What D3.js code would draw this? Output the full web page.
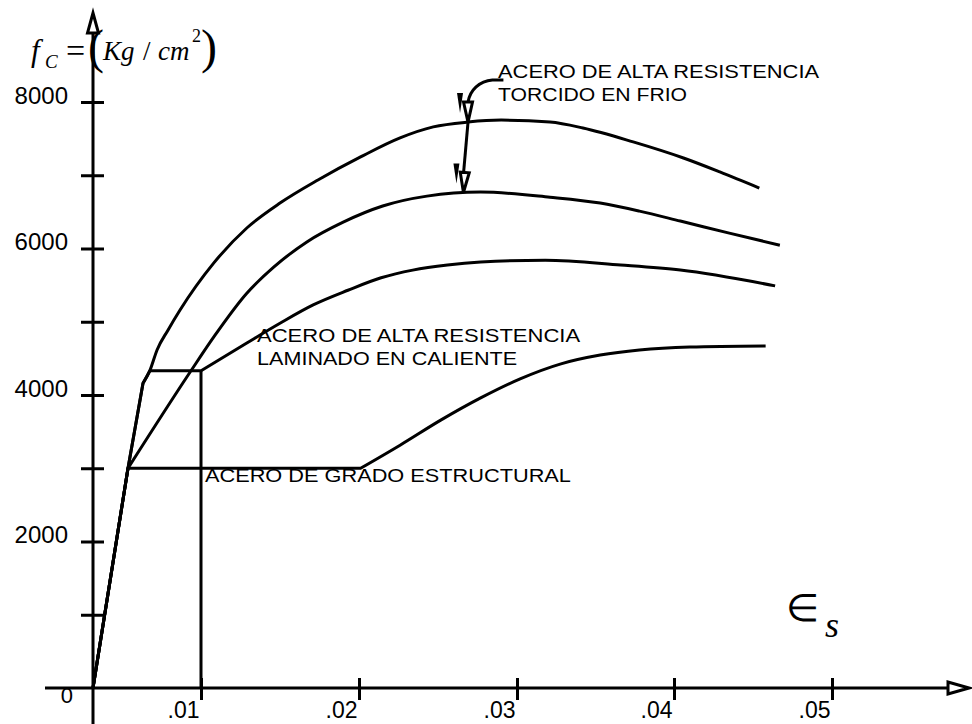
<!DOCTYPE html>
<html>
<head>
<meta charset="utf-8">
<script src="https://cdn.jsdelivr.net/npm/d3@7"></script>
<style>
  html, body { margin: 0; padding: 0; background: #fff; }
  svg { display: block; }
  .sans { font-family: "Liberation Sans", Arial, sans-serif; }
  .serif { font-family: "Liberation Serif", "Times New Roman", serif; }
</style>
</head>
<body>
<svg id="chart" width="972" height="724"></svg>
<script>
// Stress–strain curves for reinforcing steels: strain (ε_s) vs stress f_c (kg/cm²)

// Axis ticks
const strainTicks = [0.01, 0.02, 0.03, 0.04, 0.05];
const stressTicks = [1000, 2000, 3000, 4000, 5000, 6000, 7000, 8000];
const stressLabels = [2000, 4000, 6000, 8000];

// Curves as [strain, stress] pairs; the first `sharp` points are joined by
// straight segments (elastic branch, yield plateau), the rest by a smooth curve
const structuralGrade = [
  [0, 0], [0.00324, 3000], [0.0201, 3000], [0.0226, 3315], [0.0252, 3660],
  [0.0277, 3960], [0.0302, 4220], [0.0328, 4425], [0.0353, 4545],
  [0.0378, 4615], [0.0410, 4655], [0.0458, 4670]
];
const structuralGradeSharp = 3;
const hotRolled = [
  [0, 0], [0.00324, 3000], [0.00463, 4160], [0.00528, 4330], [0.0100, 4330],
  [0.0129, 4710], [0.0150, 4980], [0.0171, 5230],
  [0.0193, 5430], [0.0214, 5600], [0.0234, 5705], [0.0256, 5775],
  [0.0277, 5815], [0.0318, 5840], [0.0366, 5775], [0.0404, 5705], [0.0464, 5490]
];
const hotRolledSharp = 5;
const coldTwistedLow = [
  [0, 0], [0.00324, 3000], [0.00898, 4310], [0.0108, 4790], [0.0129, 5390],
  [0.0146, 5745], [0.0167, 6090], [0.0190, 6360], [0.0215, 6580],
  [0.0243, 6715], [0.0277, 6770], [0.0321, 6700], [0.0353, 6620],
  [0.0378, 6510], [0.0404, 6375], [0.0435, 6210], [0.0467, 6045]
];
const coldTwistedLowSharp = 2;
const coldTwistedHigh = [
  [0, 0], [0.00324, 3000], [0.00463, 4160], [0.00528, 4340], [0.00593, 4615],
  [0.00694, 4885], [0.00806, 5160], [0.0108, 5800], [0.0129, 6280],
  [0.0150, 6620], [0.0174, 6935], [0.0201, 7250], [0.0226, 7510],
  [0.0247, 7660], [0.0269, 7726], [0.0290, 7753], [0.0321, 7726],
  [0.0342, 7645], [0.0374, 7455], [0.0406, 7235], [0.0429, 7045], [0.0454, 6825]
];
const coldTwistedHighSharp = 3;

// Yield-plateau drop line of the hot-rolled steel at ε = .01
const dropLine = [[0.01, 4330], [0.01, 0]];

// Curve labels: [strain, stress] of the first baseline, text lines, widths
const labelHotRolled = [0.01355, 4720];
const labelHotRolledText = ["ACERO DE ALTA RESISTENCIA", "LAMINADO EN CALIENTE"];
const labelHotRolledWidth = [323, 260];
const labelStructural = [0.01025, 2815];
const labelStructuralText = ["ACERO DE GRADO ESTRUCTURAL"];
const labelStructuralWidth = [366];
const labelCold = [0.0288, 8330];
const labelColdText = ["ACERO DE ALTA RESISTENCIA", "TORCIDO EN FRIO"];
const labelColdWidth = [321, 189];

// Double arrow pointing at both cold-twisted curves
const leaderStart = [0.02914, 8300];
const arrowTopTip = [0.0269, 7726];
const arrowBottomTip = [0.02661, 6765];

const svg = d3.select("#chart");

// The first division (0 – .01) is drawn shorter than the rest
const x = d3.scaleLinear()
  .domain([0, 0.01, 0.02, 0.03, 0.04, 0.05])
  .range([93, 201, 359, 517, 674, 832]);
const y = d3.scaleLinear().domain([0, 8000]).range([688, 102]);

const x0 = x(0), y0 = y(0);
const ink = "#000";

// Axis lines with open arrowheads
svg.append("line").attr("x1", x0).attr("x2", x0).attr("y1", 724).attr("y2", 30)
  .attr("stroke", ink).attr("stroke-width", 3);
svg.append("line").attr("x1", 45).attr("x2", 950).attr("y1", y0).attr("y2", y0)
  .attr("stroke", ink).attr("stroke-width", 3);

function openHead(tip, dir, len, half) {
  // dir: unit vector pointing toward the tip
  const [tx, ty] = tip, [dx, dy] = dir;
  const bx = tx - dx * len, by = ty - dy * len;
  const px = -dy * half, py = dx * half;
  return [[tx, ty], [bx + px, by + py], [bx - px, by - py]];
}
const polyLine = d3.line();
function drawHead(pts) {
  svg.append("path").attr("d", polyLine(pts) + "Z")
    .attr("fill", "#fff").attr("stroke", ink).attr("stroke-width", 3)
    .attr("stroke-linejoin", "miter");
}
drawHead(openHead([x0, 13], [0, -1], 20, 5.5));
drawHead(openHead([969, y0], [1, 0], 21, 6));

// Y axis ticks (both sides of the axis) and labels
const yAxis = d3.axisLeft(y)
  .tickValues(stressTicks)
  .tickFormat(d => stressLabels.includes(d) ? String(d) : "")
  .tickSizeOuter(0);
const gy = svg.append("g").attr("transform", `translate(${x0},0)`).call(yAxis);
gy.select(".domain").remove();
gy.selectAll(".tick line").attr("x1", -12).attr("x2", 11)
  .attr("stroke", ink).attr("stroke-width", 3);
gy.selectAll(".tick text")
  .attr("class", "sans").attr("x", -25).attr("dy", "1px")
  .attr("font-size", 24).attr("fill", ink).attr("text-anchor", "end");

// X axis ticks and labels
const xAxis = d3.axisBottom(x)
  .tickValues(strainTicks)
  .tickFormat(d => d3.format(".2f")(d).replace(/^0/, ""))
  .tickSizeOuter(0);
const gx = svg.append("g").attr("transform", `translate(0,${y0})`).call(xAxis);
gx.select(".domain").remove();
gx.selectAll(".tick line").attr("y1", -10).attr("y2", 12)
  .attr("stroke", ink).attr("stroke-width", 3);
gx.selectAll(".tick text")
  .attr("class", "sans").attr("x", -2).attr("y", 30).attr("dy", 0)
  .attr("font-size", 23).attr("fill", ink).attr("text-anchor", "end");

// Origin label
svg.append("text").attr("class", "sans")
  .attr("x", x0 - 20).attr("y", y0 + 15).attr("text-anchor", "end")
  .attr("font-size", 22).text("0");

// Curves: straight elastic/plateau part followed by a smooth hardening part
const straight = d3.line().x(d => x(d[0])).y(d => y(d[1])).curve(d3.curveLinear);
const smooth = d3.line().x(d => x(d[0])).y(d => y(d[1])).curve(d3.curveMonotoneX);
function curvePath(data, sharp) {
  const a = straight(data.slice(0, sharp));
  const b = smooth(data.slice(sharp - 1)).replace(/^M/, "L");
  return a + b;
}
[[structuralGrade, structuralGradeSharp], [hotRolled, hotRolledSharp],
 [coldTwistedLow, coldTwistedLowSharp], [coldTwistedHigh, coldTwistedHighSharp]]
  .forEach(([s, k]) => {
    svg.append("path").attr("d", curvePath(s, k))
      .attr("fill", "none").attr("stroke", ink).attr("stroke-width", 3)
      .attr("stroke-linejoin", "round");
  });
svg.append("path").attr("d", straight(dropLine))
  .attr("fill", "none").attr("stroke", ink).attr("stroke-width", 3);

// Curve labels
function drawLabel(pos, lines, widths) {
  const t = svg.append("text").attr("class", "sans")
    .attr("font-size", 18.5).attr("fill", ink);
  lines.forEach((s, i) => {
    t.append("tspan").attr("x", x(pos[0])).attr("y", y(pos[1]) + i * 23)
      .attr("textLength", widths[i]).attr("lengthAdjust", "spacingAndGlyphs")
      .text(s);
  });
}
drawLabel(labelHotRolled, labelHotRolledText, labelHotRolledWidth);
drawLabel(labelStructural, labelStructuralText, labelStructuralWidth);
drawLabel(labelCold, labelColdText, labelColdWidth);

// Leader and double arrow
const ls = [x(leaderStart[0]), y(leaderStart[1])];
const tt = [x(arrowTopTip[0]), y(arrowTopTip[1])];
const bt = [x(arrowBottomTip[0]), y(arrowBottomTip[1])];
const topBase = [tt[0], tt[1] - 20];
const lead = d3.path();
lead.moveTo(ls[0], ls[1]);
lead.lineTo(ls[0] - 11, ls[1]);
lead.bezierCurveTo(ls[0] - 24, ls[1] + 1, topBase[0] + 2, ls[1] + 10, topBase[0], topBase[1]);
svg.append("path").attr("d", lead.toString())
  .attr("fill", "none").attr("stroke", ink).attr("stroke-width", 3);
svg.append("line").attr("x1", tt[0]).attr("y1", tt[1]).attr("x2", bt[0]).attr("y2", bt[1] - 18)
  .attr("stroke", ink).attr("stroke-width", 3);
const len = Math.hypot(bt[0] - tt[0], bt[1] - tt[1]);
const dir = [(bt[0] - tt[0]) / len, (bt[1] - tt[1]) / len];
drawHead(openHead(tt, [0, 1], 20, 4.5));
drawHead(openHead(bt, dir, 20, 4.5));

// Small dark wedges beside each arrowhead
[[tt, -11], [bt, -10]].forEach(([p, off]) => {
  const w = [[p[0] + off, p[1] - 29], [p[0] + off + 6, p[1] - 29], [p[0] + off + 3, p[1] - 9]];
  svg.append("path").attr("d", polyLine(w) + "Z").attr("fill", ink);
});

// Y axis title: f_C = (Kg / cm²)
const title = svg.append("g").attr("class", "serif").attr("fill", ink);
title.append("text").attr("x", 31).attr("y", 61).attr("font-size", 31)
  .attr("font-style", "italic").text("f");
title.append("text").attr("x", 45).attr("y", 68).attr("font-size", 19)
  .attr("font-style", "italic").text("C");
title.append("text").attr("x", 66).attr("y", 62).attr("font-size", 34).text("=");
title.append("text").attr("x", 88).attr("y", 63).attr("font-size", 48).text("(");
title.append("text").attr("x", 103).attr("y", 60).attr("font-size", 27)
  .attr("font-style", "italic").text("Kg");
title.append("text").attr("x", 143).attr("y", 60).attr("font-size", 27).text("/");
title.append("text").attr("x", 158).attr("y", 60).attr("font-size", 27)
  .attr("font-style", "italic").text("cm");
title.append("text").attr("x", 192).attr("y", 42).attr("font-size", 18).text("2");
title.append("text").attr("x", 201).attr("y", 63).attr("font-size", 48).text(")");

// X axis title: ε_s
svg.append("text").attr("x", 786).attr("y", 621)
  .attr("font-family", "DejaVu Sans").attr("font-weight", 200)
  .attr("font-size", 38).attr("fill", ink).text("∈");
svg.append("text").attr("class", "serif").attr("x", 825).attr("y", 637)
  .attr("font-size", 36).attr("font-style", "italic").attr("fill", ink).text("s");
</script>
</body>
</html>
